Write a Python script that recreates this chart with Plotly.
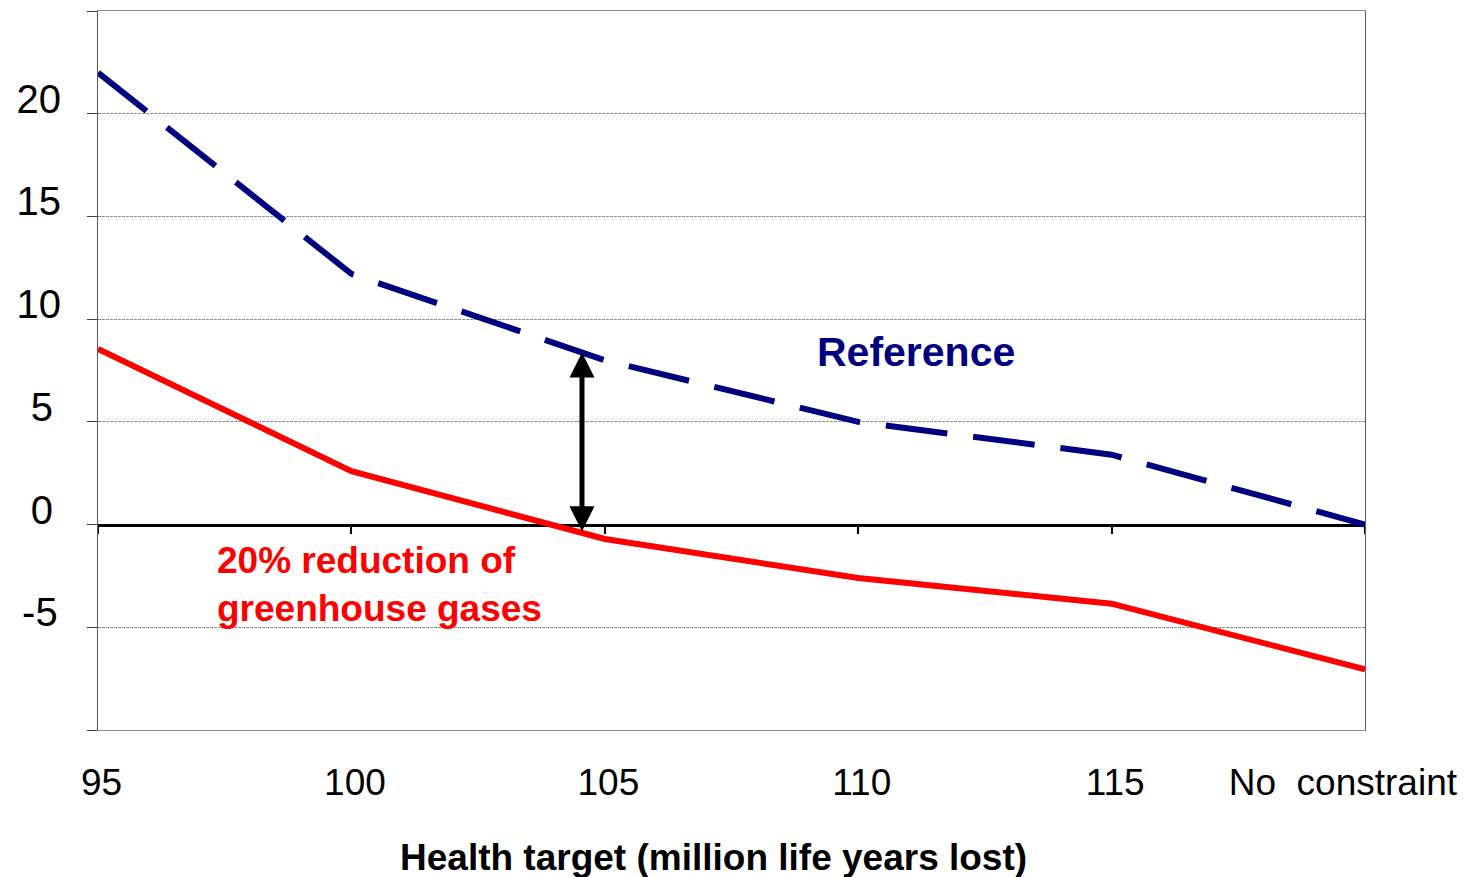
import plotly.graph_objects as go

# ---- data ----
categories = ["95", "100", "105", "110", "115", "No\u00a0\u00a0constraint"]
reference = [22.0, 12.2, 8.0, 5.0, 3.4, 0.0]
reduction20 = [8.55, 2.6, -0.7, -2.6, -3.85, -7.05]
y_tick_values = [-10, -5, 0, 5, 10, 15, 20, 25]
y_tick_labels = ["", "-5\u200a", "0\u2009", "5\u2009", "10", "15", "20", ""]
y_range = [-10, 25]
gap_x = 1.91  # position (in category steps) of the double arrow

x_pos = list(range(len(categories)))
# numeric labels sit a little right of their tick, the last one ends inside the page
x_tick_text = [("\u00a0" * 4 + c) if c[0].isdigit() else (c + "\u00a0") for c in categories]


def interp(xs, ys, x):
    for i in range(len(xs) - 1):
        if xs[i] <= x <= xs[i + 1]:
            t = (x - xs[i]) / (xs[i + 1] - xs[i])
            return ys[i] + t * (ys[i + 1] - ys[i])
    return ys[-1]


arrow_top = interp(x_pos, reference, gap_x)
arrow_bottom = interp(x_pos, reduction20, gap_x)

FONT = "Arial, 'Liberation Sans', sans-serif"
NAVY = "#000080"
RED = "#FF0000"

# page body has an 8px margin: shrink the figure so the plot lands where it should
W, H = 1460, 869
ML, MT = 90, 3
PW, PH = 1267, 719

fig = go.Figure()
fig.add_trace(go.Scatter(
    x=x_pos, y=reference, mode="lines", name="Reference",
    xaxis="x", yaxis="y",
    line=dict(color=NAVY, width=6, dash="62px,26px"),
    showlegend=False, hoverinfo="skip",
))
fig.add_trace(go.Scatter(
    x=x_pos, y=reduction20, mode="lines", name="20% reduction of greenhouse gases",
    xaxis="x2", yaxis="y",
    line=dict(color=RED, width=6),
    showlegend=False, hoverinfo="skip",
))

fig.add_annotation(
    x=gap_x, y=arrow_top, ax=gap_x, ay=arrow_bottom,
    xref="x", yref="y", axref="x", ayref="y",
    text="", showarrow=True, arrowside="end+start",
    arrowhead=2, startarrowhead=2, arrowsize=1.0, startarrowsize=1.0,
    arrowwidth=5, arrowcolor="black",
)
fig.add_annotation(
    x=3.23, y=8.4, xref="x", yref="y", text="<b>Reference</b>",
    showarrow=False, xanchor="center", yanchor="middle",
    font=dict(family=FONT, size=41, color=NAVY),
)
fig.add_annotation(
    x=0.462, y=-2.9, xref="x", yref="y",
    text="<b>20% reduction of<br>greenhouse gases</b>",
    showarrow=False, xanchor="left", yanchor="middle", align="left",
    font=dict(family=FONT, size=37, color=RED),
)
fig.add_annotation(
    x=(713 - 98) / PW, y=-(857 - 730) / PH, xref="paper", yref="paper",
    text="<b>Health target (million life years lost)</b>",
    showarrow=False, xanchor="center", yanchor="middle",
    font=dict(family=FONT, size=37, color="black"),
)

fig.update_layout(
    template="none",
    width=W, height=H,
    margin=dict(l=ML, r=W - ML - PW, t=MT, b=H - MT - PH, pad=0, autoexpand=False),
    paper_bgcolor="white", plot_bgcolor="white",
    font=dict(family=FONT, color="black"),
    showlegend=False,
    xaxis=dict(
        range=[0, len(categories) - 1], automargin=False,
        tickvals=x_pos, ticktext=x_tick_text, tickangle=0,
        tickfont=dict(family=FONT, size=37, color="black"),
        ticks="", ticklabelstandoff=20, ticklabelshift=-17,
        ticklabeloverflow="allow",
        showgrid=False, zeroline=False,
        showline=True, linecolor="#8c8c8c", linewidth=1, mirror=True,
    ),
    xaxis2=dict(
        overlaying="x", anchor="free", position=(0 - y_range[0]) / (y_range[1] - y_range[0]),
        range=[0, len(categories) - 1], tickvals=x_pos, showticklabels=False,
        automargin=False,
        ticks="outside", ticklen=8, tickwidth=2, tickcolor="black",
        showline=True, linecolor="black", linewidth=2.5,
        showgrid=False, zeroline=False, layer="below traces",
    ),
    yaxis=dict(
        range=y_range, tickvals=y_tick_values, ticktext=y_tick_labels,
        automargin=False,
        tickfont=dict(family=FONT, size=40, color="black"),
        ticks="outside", ticklen=10, tickwidth=1, tickcolor="#404040",
        ticklabelstandoff=18, ticklabelshift=-15,
        showgrid=True, gridcolor="#8c8c8c", gridwidth=1, griddash="3px,1px",
        zeroline=False,
        showline=True, linecolor="#5a5a5a", linewidth=1, mirror=True,
    ),
)

fig.write_html("out.html")
